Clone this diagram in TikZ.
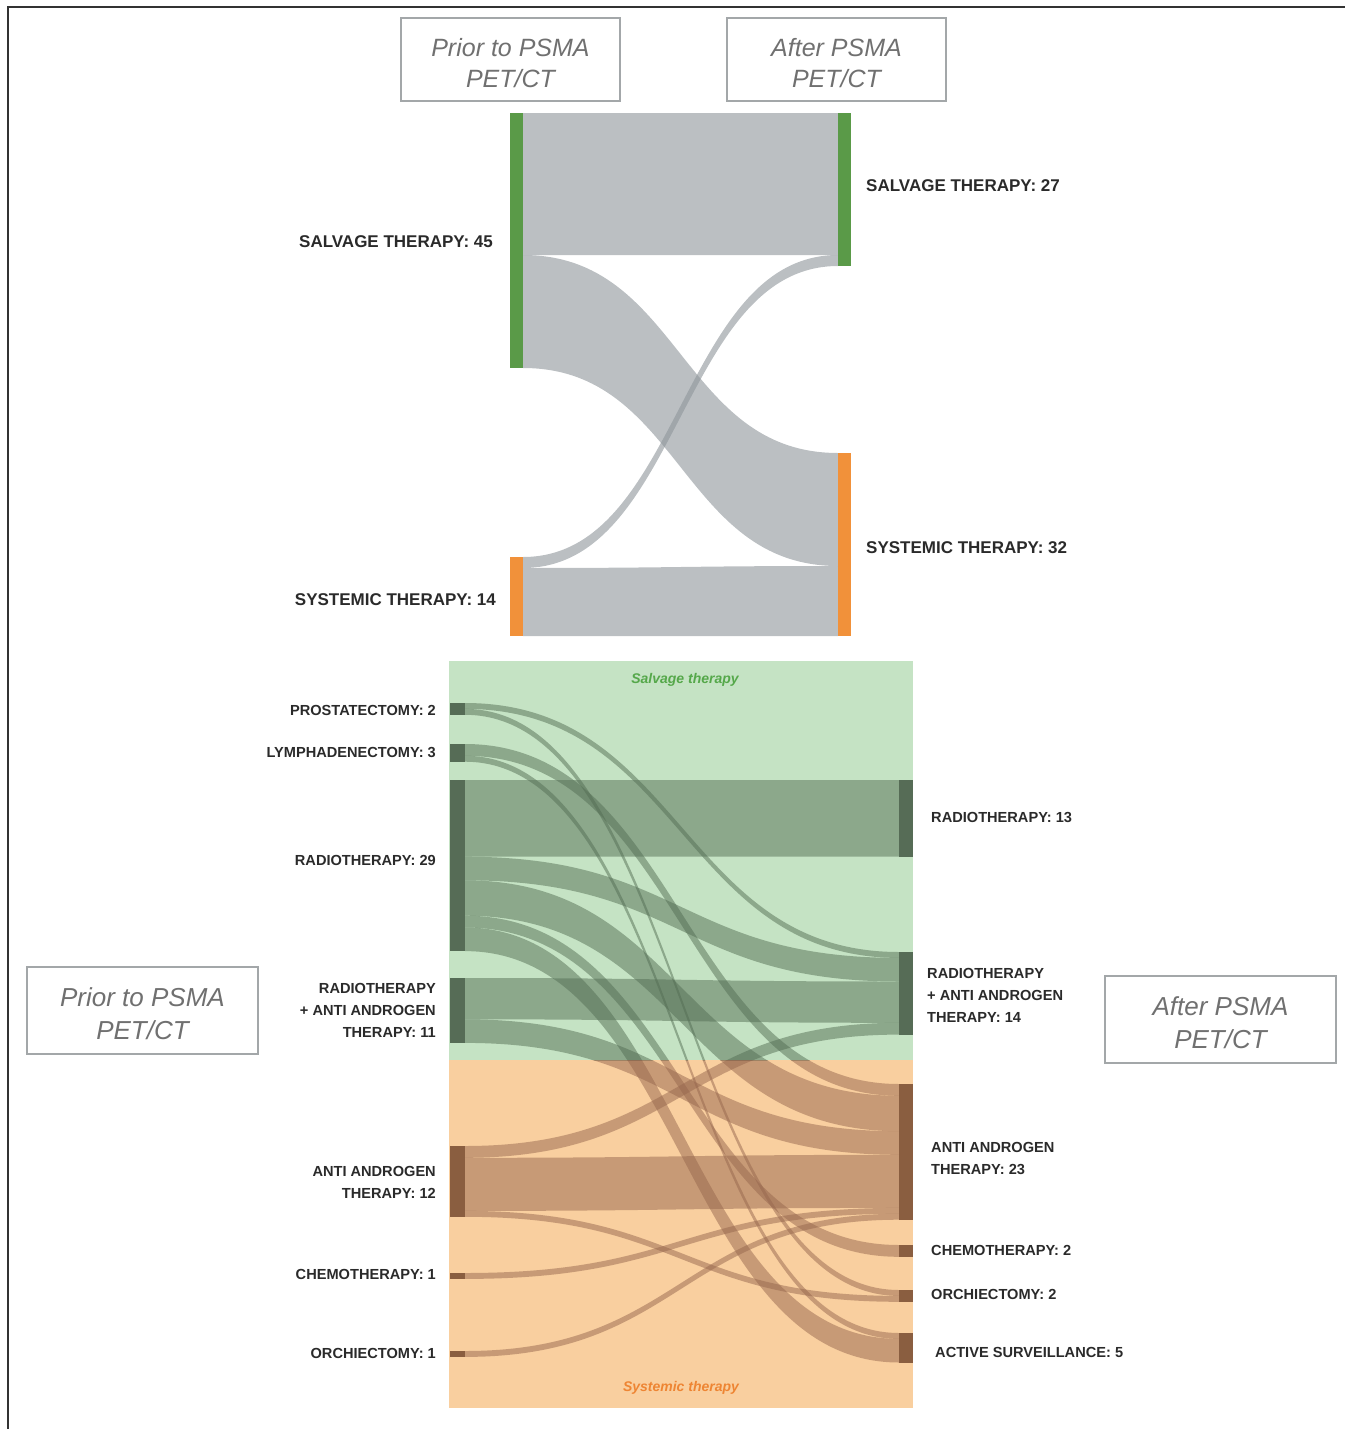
\documentclass[tikz,border=0pt]{standalone}
\usepackage{fontspec}
\setmainfont{Liberation Sans}
\definecolor{frameC}{HTML}{333333}
\definecolor{boxC}{HTML}{A3A7A9}
\definecolor{boxtext}{HTML}{707070}
\definecolor{gbar}{HTML}{5A9A48}
\definecolor{obar}{HTML}{F1913A}
\definecolor{topflow}{HTML}{8E959A}
\definecolor{bgG}{HTML}{C5E3C4}
\definecolor{bgO}{HTML}{F9CF9F}
\definecolor{flowG}{HTML}{546E54}
\definecolor{flowO}{HTML}{97674E}
\definecolor{barG}{HTML}{566C56}
\definecolor{barO}{HTML}{8A5E40}
\definecolor{lblC}{HTML}{2A2A2A}
\definecolor{salvC}{HTML}{55A84A}
\definecolor{sysC}{HTML}{EE8533}
% bottom sankey band: left top/bottom, right top/bottom
\newcommand\sbf[4]{\fill (465,#1) .. controls (682,#1) and (682,#3) .. (899,#3) -- (899,#4) .. controls (682,#4) and (682,#2) .. (465,#2) -- cycle;}
% top sankey band
\newcommand\tbf[4]{\fill[topflow, fill opacity=0.6] (523,#1) .. controls (680.5,#1) and (680.5,#3) .. (838,#3) -- (838,#4) .. controls (680.5,#4) and (680.5,#2) .. (523,#2) -- cycle;}
\newcommand\allflows{%
\sbf{703}{708.9}{952}{957.9}
\sbf{708.9}{714.8}{1290}{1295.9}
\sbf{744}{755.8}{1084}{1095.8}
\sbf{755.8}{761.7}{1333}{1338.9}
\sbf{780}{856.7}{780}{856.7}
\sbf{856.7}{880.3}{957.9}{981.5}
\sbf{880.3}{915.7}{1095.8}{1131.2}
\sbf{915.7}{927.5}{1245}{1256.8}
\sbf{927.5}{951.1}{1338.9}{1362.5}
\sbf{978}{1019.3}{981.5}{1022.8}
\sbf{1019.3}{1042.9}{1131.2}{1154.8}
\sbf{1146}{1157.8}{1022.8}{1034.6}
\sbf{1157.8}{1210.9}{1154.8}{1207.9}
\sbf{1210.9}{1216.8}{1295.9}{1301.8}
\sbf{1273}{1278.9}{1207.9}{1213.8}
\sbf{1351}{1356.9}{1213.8}{1219.7}}
\tikzset{
 lbl/.style={font=\fontsize{14.6}{22}\selectfont\bfseries, text=lblC, inner sep=0pt},
 toplbl/.style={font=\fontsize{17}{20}\selectfont\bfseries, text=lblC, inner sep=0pt},
 ptbox/.style={draw=boxC, line width=1.5pt, inner sep=0pt, minimum width=219pt, minimum height=83pt},
 ptboxb/.style={ptbox, minimum width=231pt, minimum height=87pt},
 pttext/.style={text=boxtext, font=\fontsize{25}{31}\selectfont\itshape, align=center, inner sep=0pt},
 pttextb/.style={pttext, font=\fontsize{26}{33}\selectfont\itshape},
 barnode/.style={inner sep=0pt, outer sep=0pt, draw=none, anchor=north west},
}
\begin{document}
\begin{tikzpicture}[x=1pt,y=-1pt]
\useasboundingbox (0,0) rectangle (1345,1429);
% frame
\draw[frameC, line width=2pt] (8,1429) -- (8,7) -- (1345,7);
% top boxes
\node[ptbox] (tprior) at (510.5,59.5) {};
\node[pttext] (tpriort) at (510.5,63.5) {Prior to PSMA\\PET/CT};
\node[ptbox] (tafter) at (836.5,59.5) {};
\node[pttext] (taftert) at (836.5,63.5) {After PSMA\\PET/CT};
% top flows
\tbf{113}{255}{113}{255}
\tbf{255}{368}{453}{566}
\tbf{557}{568}{255}{266}
\tbf{568}{636}{566}{636}
% top bars
\node[barnode, fill=gbar, minimum width=13pt, minimum height=255pt] (ls) at (510,113) {};
\node[barnode, fill=obar, minimum width=13pt, minimum height=79pt] (lsys) at (510,557) {};
\node[barnode, fill=gbar, minimum width=13pt, minimum height=153pt] (rs) at (838,113) {};
\node[barnode, fill=obar, minimum width=13pt, minimum height=183pt] (rsys) at (838,453) {};
\node[toplbl, anchor=east] (lsl) at (493,242) {SALVAGE THERAPY: 45};
\node[toplbl, anchor=east] (lsysl) at (496,600) {SYSTEMIC THERAPY: 14};
\node[toplbl, anchor=west] (rsl) at (866,186) {SALVAGE THERAPY: 27};
\node[toplbl, anchor=west] (rsysl) at (866,548) {SYSTEMIC THERAPY: 32};
% bottom background
\fill[bgG] (449,661) rectangle (913,1060);
\fill[bgO] (449,1060) rectangle (913,1408);
\node[font=\fontsize{14}{16}\selectfont\bfseries\itshape, text=salvC] (salvt) at (685,680) {Salvage therapy};
\node[font=\fontsize{14}{16}\selectfont\bfseries\itshape, text=sysC] (syst) at (681,1388) {Systemic therapy};
% flows
\begin{scope}
\clip (449,661) rectangle (913,1060);
\begin{scope}[fill=flowG, fill opacity=0.5]\allflows\end{scope}
\end{scope}
\begin{scope}
\clip (449,1060) rectangle (913,1408);
\begin{scope}[fill=flowO, fill opacity=0.5]\allflows\end{scope}
\end{scope}
% left bars
\node[barnode, fill=barG, minimum width=15pt, minimum height=11.8pt] (bP) at (450,703) {};
\node[barnode, fill=barG, minimum width=15pt, minimum height=17.7pt] (bL) at (450,744) {};
\node[barnode, fill=barG, minimum width=15pt, minimum height=171.1pt] (bR) at (450,780) {};
\node[barnode, fill=barG, minimum width=15pt, minimum height=64.9pt] (bRA) at (450,978) {};
\node[barnode, fill=barO, minimum width=15pt, minimum height=70.8pt] (bA) at (450,1146) {};
\node[barnode, fill=barO, minimum width=15pt, minimum height=5.9pt] (bC) at (450,1273) {};
\node[barnode, fill=barO, minimum width=15pt, minimum height=5.9pt] (bO) at (450,1351) {};
% right bars
\node[barnode, fill=barG, minimum width=14pt, minimum height=76.7pt] (aR) at (899,780) {};
\node[barnode, fill=barG, minimum width=14pt, minimum height=82.6pt] (aRA) at (899,952) {};
\node[barnode, fill=barO, minimum width=14pt, minimum height=135.7pt] (aA) at (899,1084) {};
\node[barnode, fill=barO, minimum width=14pt, minimum height=11.8pt] (aC) at (899,1245) {};
\node[barnode, fill=barO, minimum width=14pt, minimum height=11.8pt] (aO) at (899,1290) {};
\node[barnode, fill=barO, minimum width=14pt, minimum height=29.5pt] (aAS) at (899,1333) {};
% left labels
\node[lbl, anchor=east] (lP) at (436,710) {PROSTATECTOMY: 2};
\node[lbl, anchor=east] (lL) at (436,752) {LYMPHADENECTOMY: 3};
\node[lbl, anchor=east] (lR) at (436,860) {RADIOTHERAPY: 29};
\node[lbl, anchor=east, align=right] (lRA) at (436,1010) {RADIOTHERAPY\\+ ANTI ANDROGEN\\THERAPY: 11};
\node[lbl, anchor=east, align=right] (lA) at (436,1182) {ANTI ANDROGEN\\THERAPY: 12};
\node[lbl, anchor=east] (lC) at (436,1274) {CHEMOTHERAPY: 1};
\node[lbl, anchor=east] (lO) at (436,1353) {ORCHIECTOMY: 1};
% right labels
\node[lbl, anchor=west] (rR) at (931,817) {RADIOTHERAPY: 13};
\node[lbl, anchor=west, align=left] (rRA) at (927,995) {RADIOTHERAPY\\+ ANTI ANDROGEN\\THERAPY: 14};
\node[lbl, anchor=west, align=left] (rA) at (931,1158) {ANTI ANDROGEN\\THERAPY: 23};
\node[lbl, anchor=west] (rC) at (931,1250) {CHEMOTHERAPY: 2};
\node[lbl, anchor=west] (rO) at (931,1294) {ORCHIECTOMY: 2};
\node[lbl, anchor=west] (rAS) at (935,1352) {ACTIVE SURVEILLANCE: 5};
% bottom boxes
\node[ptboxb] (bprior) at (142.5,1010.5) {};
\node[pttextb] (bpriort) at (142.5,1014) {Prior to PSMA\\PET/CT};
\node[ptboxb] (bafter) at (1220.5,1019.5) {};
\node[pttextb] (baftert) at (1220.5,1023) {After PSMA\\PET/CT};
\end{tikzpicture}
\end{document}
